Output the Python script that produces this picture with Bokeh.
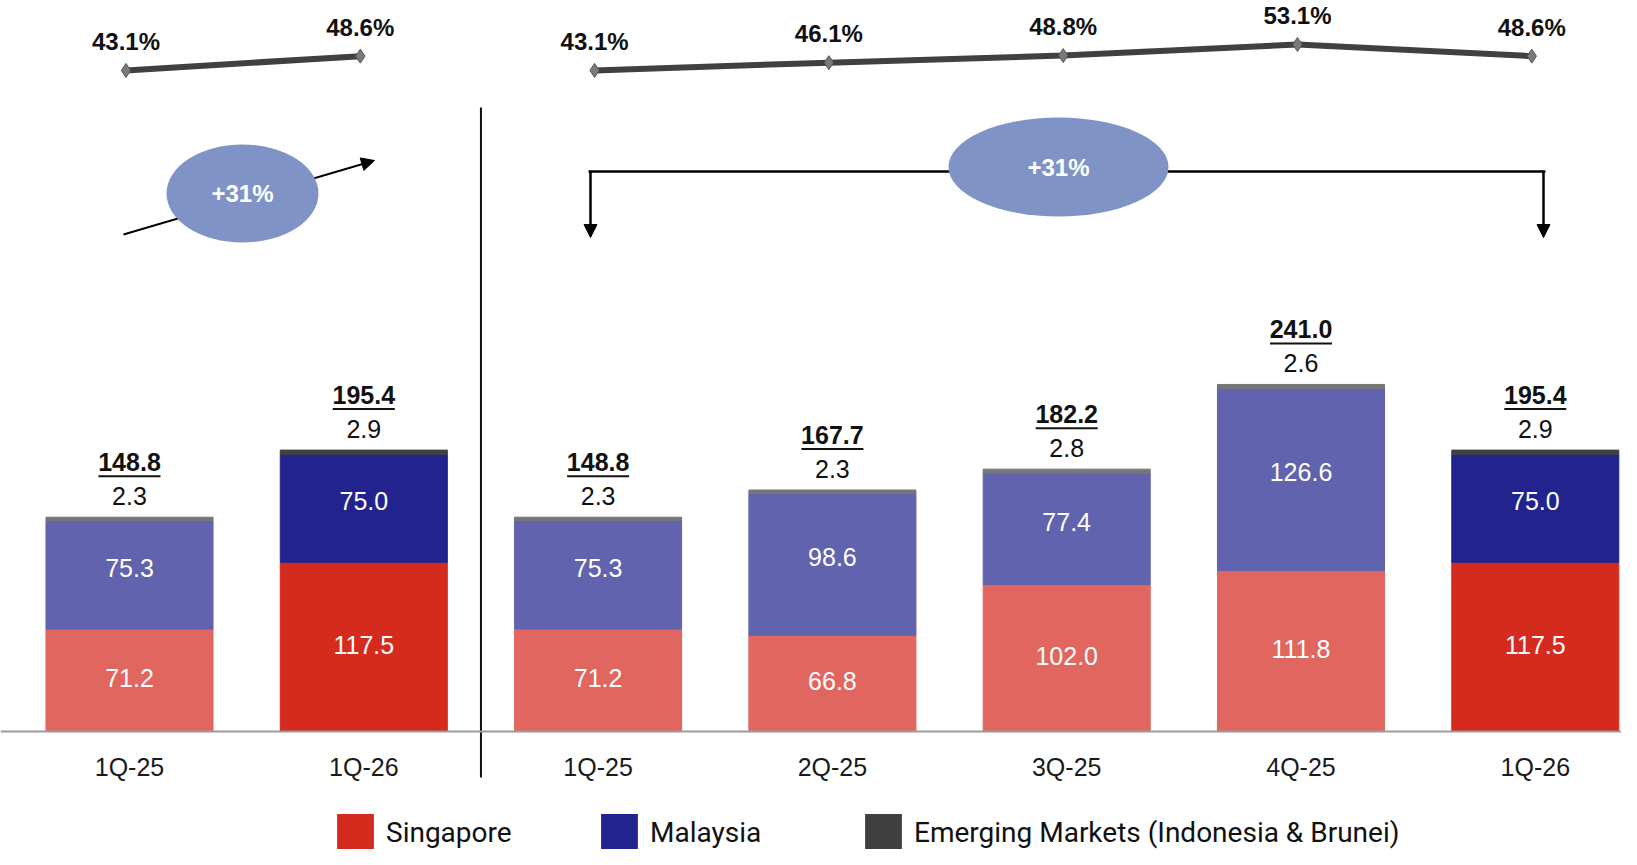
import numpy as np
from bokeh.plotting import figure
from bokeh.models import (ColumnDataSource, Range1d, FixedTicker, Legend, LegendItem,
                          Arrow, NormalHead)
from bokeh.core.properties import value
from bokeh.embed import file_html
from bokeh.resources import INLINE

# ---------------- data ----------------
quarters = ["1Q-25", "1Q-26", "1Q-25", "2Q-25", "3Q-25", "4Q-25", "1Q-26"]
singapore = [71.2, 117.5, 71.2, 66.8, 102.0, 111.8, 117.5]
malaysia = [75.3, 75.0, 75.3, 98.6, 77.4, 126.6, 75.0]
emerging = [2.3, 2.9, 2.3, 2.3, 2.8, 2.6, 2.9]
totals = [148.8, 195.4, 148.8, 167.7, 182.2, 241.0, 195.4]
margin_pct = [43.1, 48.6, 43.1, 46.1, 48.8, 53.1, 48.6]
highlight = [False, True, False, False, False, False, True]
panels = [[0, 1], [2, 3, 4, 5, 6]]
growth_label = "+31%"
series_names = ["Singapore", "Malaysia", "Emerging Markets (Indonesia & Brunei)"]

# ---------------- layout constants (pixels) ----------------
W, H = 1621, 849
X0_PX, DX_PX = 129.0, 234.3      # canvas x of first bar centre, bar spacing
BASE_PX, PXU = 731.0, 1.44       # canvas y of zero line, px per unit
PCT_C, PCT_S = 182.0, 2.6        # canvas y of pct line = PCT_C - PCT_S*v
FONT = value("Liberation Sans")


def xd(cx):
    return (cx - X0_PX) / DX_PX


def yd(cy):
    return (BASE_PX - cy) / PXU


light = {"sg": "#E0665F", "my": "#6163AE", "em": "#767676"}
dark = {"sg": "#D52B1E", "my": "#22238F", "em": "#404040"}

x_idx = np.arange(len(quarters))
sg = np.array(singapore)
my = np.array(malaysia)
em = np.array(emerging)
sg_top = sg
my_top = sg + my
em_top = sg + my + em

src = ColumnDataSource(dict(
    x=x_idx,
    sg_top=sg_top, my_top=my_top, em_top=em_top,
    sg_mid=sg_top / 2, my_mid=(sg_top + my_top) / 2,
    sg_c=[dark["sg"] if h else light["sg"] for h in highlight],
    my_c=[dark["my"] if h else light["my"] for h in highlight],
    em_c=[dark["em"] if h else light["em"] for h in highlight],
    sg_lbl=[f"{v:.1f}" for v in singapore],
    my_lbl=[f"{v:.1f}" for v in malaysia],
    em_lbl=[f"{v:.1f}" for v in emerging],
    tot_lbl=[f"{v:.1f}" for v in totals],
    ul_y=em_top + 41 / PXU,
))

p = figure(width=W, height=H,
           x_range=Range1d(xd(0), xd(W)),
           y_range=Range1d(yd(H), yd(0)),
           output_backend="svg", toolbar_location=None,
           min_border=0, y_axis_location=None, x_axis_location="below")
p.extra_y_ranges = {"pct": Range1d((PCT_C - H) / PCT_S, PCT_C / PCT_S)}
p.outline_line_color = None
p.grid.visible = False
p.background_fill_color = "white"
p.border_fill_color = "white"

# ---------------- stacked bars ----------------
BW = 0.713
p.vbar(x="x", bottom=0, top="sg_top", width=BW, fill_color="sg_c", line_color="sg_c", source=src)
p.vbar(x="x", bottom="sg_top", top="my_top", width=BW, fill_color="my_c", line_color="my_c", source=src)
p.vbar(x="x", bottom="my_top", top="em_top", width=BW, fill_color="em_c", line_color="em_c", source=src)

p.text(x="x", y="sg_mid", text="sg_lbl", source=src, text_align="center", text_baseline="middle",
       y_offset=-2, text_color="white", text_font=FONT, text_font_size="25px")
p.text(x="x", y="my_mid", text="my_lbl", source=src, text_align="center", text_baseline="middle",
       y_offset=-7, text_color="white", text_font=FONT, text_font_size="25px")
p.text(x="x", y="em_top", text="em_lbl", source=src, text_align="center", text_baseline="middle",
       y_offset=-21, text_color="#111111", text_font=FONT, text_font_size="25px")
p.text(x="x", y="em_top", text="tot_lbl", source=src, text_align="center", text_baseline="middle",
       y_offset=-55, text_color="#111111", text_font=FONT, text_font_size="25px", text_font_style="bold")
p.rect(x="x", y="ul_y", width=62, height=2, width_units="screen", height_units="screen",
       fill_color="#111111", line_color=None, source=src)

# ---------------- margin line ----------------
for idx in panels:
    xs = [x_idx[i] - 0.015 for i in idx]
    ys = [margin_pct[i] for i in idx]
    p.line(xs, ys, y_range_name="pct", line_color="#404040", line_width=6)
    p.scatter(xs, ys, y_range_name="pct", marker="diamond", size=14,
              fill_color="#7a7a7a", line_color="#555555", line_width=1)
    p.text(xs, ys, text=[f"{v:.1f}%" for v in ys], y_range_name="pct",
           text_align="center", text_baseline="middle", y_offset=-29,
           text_color="#111111", text_font=FONT, text_font_size="24px", text_font_style="bold")

# ---------------- divider ----------------
p.segment(x0=[1.5], y0=[yd(777)], x1=[1.5], y1=[yd(107)], line_color="#111111", line_width=2)

# ---------------- growth annotations ----------------
head = dict(size=13, fill_color="#000000", line_color="#000000")
p.add_layout(Arrow(x_start=xd(123), y_start=yd(234), x_end=xd(374), y_end=yd(160),
                   end=NormalHead(**head), line_width=2, line_color="#000000", level="underlay"))
p.segment(x0=[xd(588)], y0=[yd(171)], x1=[xd(1545)], y1=[yd(171)], line_color="#000000", line_width=2.5)
for cx in (590, 1543):
    p.add_layout(Arrow(x_start=xd(cx), y_start=yd(171), x_end=xd(cx), y_end=yd(237),
                       end=NormalHead(**head), line_width=2.5, line_color="#000000", level="underlay"))

ell = ColumnDataSource(dict(x=[xd(242), xd(1058)], y=[yd(193), yd(166.5)],
                            w=[152, 220], h=[98, 99], t=[growth_label, growth_label]))
p.ellipse(x="x", y="y", width="w", height="h", width_units="screen", height_units="screen",
          fill_color="#7F93C6", line_color=None, source=ell)
p.text(x="x", y="y", text="t", source=ell, text_align="center", text_baseline="middle",
       text_color="white", text_font=FONT, text_font_size="24px", text_font_style="bold")

# ---------------- x axis ----------------
ax = p.xaxis[0]
ax.fixed_location = 0
ax.ticker = FixedTicker(ticks=list(range(len(quarters))))
ax.major_label_overrides = {i: q for i, q in enumerate(quarters)}
ax.axis_line_color = "#9b9b9b"
ax.axis_line_width = 2
ax.major_tick_line_color = None
ax.minor_tick_line_color = None
ax.major_label_text_font = "Liberation Sans"
ax.major_label_text_font_size = "25px"
ax.major_label_text_color = "#1a1a1a"
ax.major_label_standoff = 15

# ---------------- legend ----------------
leg_src = ColumnDataSource(dict(x=[-50.0], y=[-5000.0]))
leg_renderers = [p.rect(x="x", y="y", width=0.1, height=0.1, fill_color=c, line_color=None, source=leg_src)
                 for c in (dark["sg"], dark["my"], dark["em"])]
legend = Legend(items=[LegendItem(label=value(n), renderers=[r]) for n, r in zip(series_names, leg_renderers)],
                orientation="horizontal", location=(332, -6),
                glyph_width=46, glyph_height=46, label_standoff=8, label_width=210,
                spacing=0, padding=0, margin=0, border_line_color=None, background_fill_alpha=0,
                label_text_font="Roboto", label_text_font_size="28px", label_text_color="#111111")
p.add_layout(legend)

open("out.html", "w").write(file_html(p, INLINE))
